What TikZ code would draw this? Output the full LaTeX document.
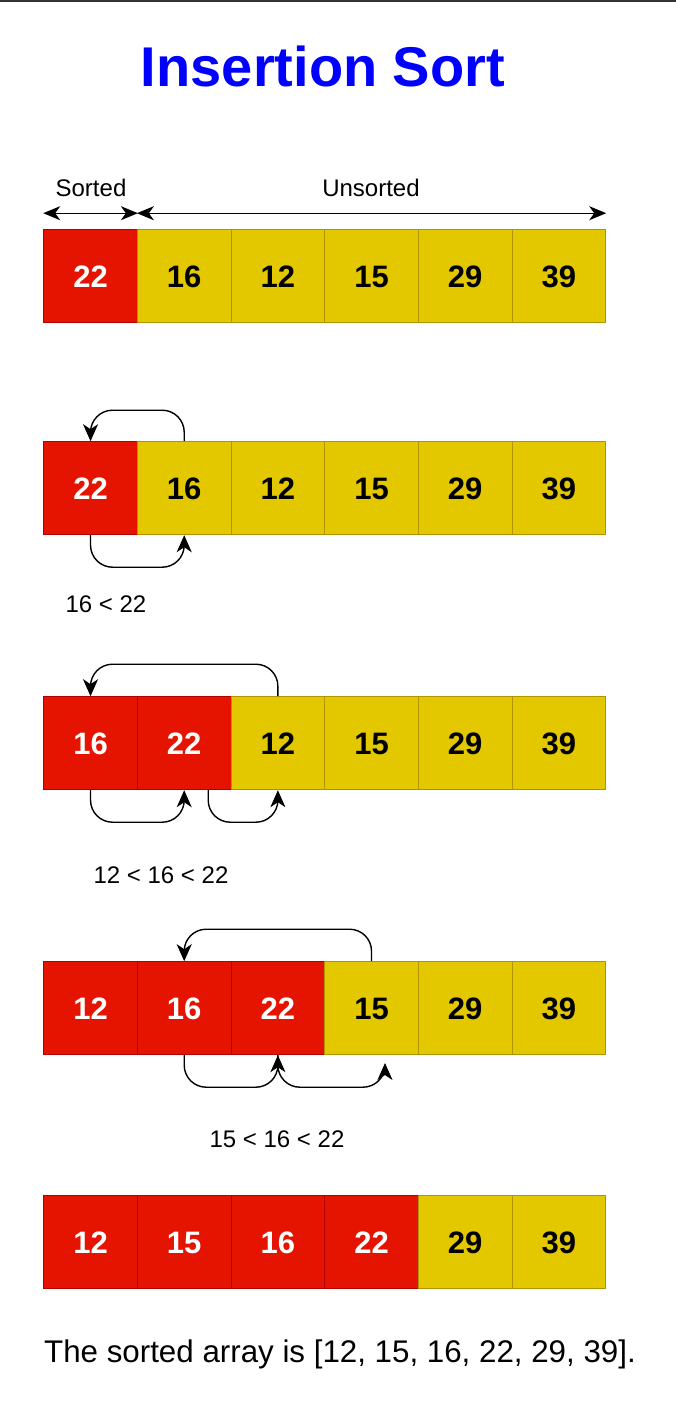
\documentclass[tikz,border=0pt]{standalone}
\usepackage{fontspec}
\setmainfont{Liberation Sans}
\usetikzlibrary{arrows.meta}
\definecolor{cellred}{HTML}{E51400}
\definecolor{redline}{HTML}{B20000}
\definecolor{cellyellow}{HTML}{E3C800}
\definecolor{yellowline}{HTML}{B09500}
\tikzstyle{cell} = [minimum width=93.67pt, minimum height=93pt, inner sep=0pt, line width=1pt, text height=22pt, text depth=0pt, font=\bfseries\fontsize{31}{31}\selectfont]
\tikzstyle{sorted} = [cell, fill=cellred, draw=redline, text=white]
\tikzstyle{unsorted} = [cell, fill=cellyellow, draw=yellowline, text=black]
\tikzstyle{note} = [inner sep=0pt, font=\fontsize{24}{24}\selectfont]
\tikzstyle{move} = [-{Stealth[length=17pt,width=15pt,inset=5pt]}, line width=1.4pt, rounded corners=22pt]
\tikzstyle{extent} = [{Stealth[length=17pt,width=14pt,inset=5pt]}-{Stealth[length=17pt,width=14pt,inset=5pt]}, line width=1.4pt]
\tikzstyle{row} = [anchor=north west, inner sep=0pt, column sep=-1pt]

\begin{document}
\begin{tikzpicture}[x=1pt, y=-1pt]
        \useasboundingbox (0,0) rectangle (676,1408);
        \draw[line width=2pt, black!80] (0,1) -- (676,1);

        \node[anchor=base, text=blue, font=\bfseries\fontsize{56}{56}\selectfont] (title) at (323,86) {Insertion Sort};

        % step 1
        \matrix[row] at (43,229) {
            \node[sorted](11){22}; & \node[unsorted](12){16}; & \node[unsorted](13){12}; & \node[unsorted](14){15}; & \node[unsorted](15){29}; & \node[unsorted](16){39}; \\
        };
        \node[note] (sortedtext) at (91,188) {Sorted};
        \node[note] (unsortedtext) at (371,188) {Unsorted};
        \draw[extent] ([yshift=16pt]11.north west) -- ([yshift=16pt]11.north east);
        \draw[extent] ([yshift=16pt]12.north west) -- ([yshift=16pt]16.north east);

        % step 2
        \matrix[row] at (43,441) {
            \node[sorted](21){22}; & \node[unsorted](22){16}; & \node[unsorted](23){12}; & \node[unsorted](24){15}; & \node[unsorted](25){29}; & \node[unsorted](26){39}; \\
        };
        \draw[move] (22.north) -- ++(0,-31) -| (21.north);
        \draw[move] (21.south) -- ++(0,32) -| (22.south);
        \node[note] (cmp2) at (106,604) {16 < 22};

        % step 3
        \matrix[row] at (43,696) {
            \node[sorted](31){16}; & \node[sorted](32){22}; & \node[unsorted](33){12}; & \node[unsorted](34){15}; & \node[unsorted](35){29}; & \node[unsorted](36){39}; \\
        };
        \draw[move] (33.north) -- ++(0,-32) -| (31.north);
        \draw[move] (31.south) -- ++(0,32) -| (32.south);
        \draw[move] ([xshift=24pt]32.south) -- ++(0,32) -| (33.south);
        \node[note] (cmp3) at (161,875) {12 < 16 < 22};

        % step 4
        \matrix[row] at (43,961) {
            \node[sorted](41){12}; & \node[sorted](42){16}; & \node[sorted](43){22}; & \node[unsorted](44){15}; & \node[unsorted](45){29}; & \node[unsorted](46){39}; \\
        };
        \coordinate (end4) at (385,1063);
        \draw[move] (44.north) -- ++(0,-32) -| (42.north);
        \draw[move] (42.south) -- ++(0,32) -| (43.south);
        \draw[move] (43.south) -- ++(0,32) -| (end4);
        \node[note] (cmp4) at (277,1139) {15 < 16 < 22};

        % step 5
        \matrix[row] at (43,1195) {
            \node[sorted](51){12}; & \node[sorted](52){15}; & \node[sorted](53){16}; & \node[sorted](54){22}; & \node[unsorted](55){29}; & \node[unsorted](56){39}; \\
        };
        \node[anchor=base, font=\fontsize{31.3}{31.3}\selectfont] (result) at (340,1362) {The sorted array is [12, 15, 16, 22, 29, 39].};
    \end{tikzpicture}
\end{document}
